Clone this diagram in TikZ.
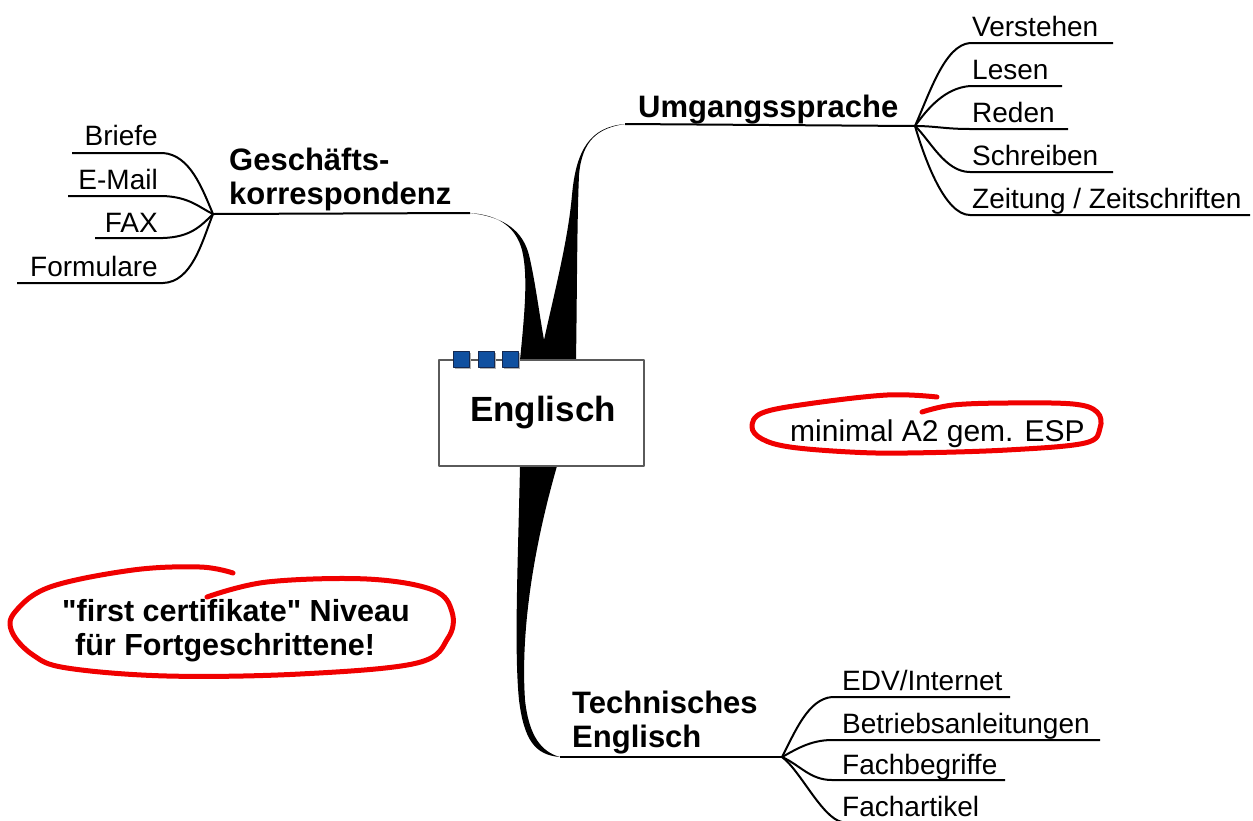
\documentclass[tikz,border=0pt]{standalone}
\usepackage{fontspec}
\setmainfont{Liberation Sans}
\newfontfamily\qfont{Liberation Sans}[Ligatures=TeXOff]
\definecolor{sqblue}{RGB}{16,80,160}
\definecolor{sqedge}{RGB}{20,40,80}
\definecolor{mark}{RGB}{240,0,0}
\definecolor{boxedge}{RGB}{90,90,90}
\newcommand{\sq}{{\qfont\bfseries\char34}}
\begin{document}
\begin{tikzpicture}[x=1pt,y=-1pt,line join=round,
  thin/.style={line width=2pt,black},
  lbl/.style={inner sep=0pt,anchor=base west,font=\fontsize{28}{30}\selectfont},
  lblr/.style={inner sep=0pt,anchor=base east,font=\fontsize{28}{30}\selectfont},
  head/.style={inner sep=0pt,anchor=base west,font=\fontsize{31}{34}\selectfont\bfseries},
  note/.style={draw=mark,line width=5pt,line cap=round},
  sqbox/.style={fill=sqblue,draw=sqedge,line width=1pt}]
\useasboundingbox (0,0) rectangle (1253,820);

% hubs and tips
\coordinate (hubR) at (915,126);
\coordinate (hubL) at (213,214);
\coordinate (hubB) at (782,757);
\coordinate (tipU) at (625,124);
\coordinate (tipL) at (470,213);
\coordinate (tipB) at (560,757);

% tapered main branches
\fill[black] (520,360) .. controls (525,310) and (528,275) .. (522,250)
  .. controls (516,228) and (500,215) .. (tipL)
  .. controls (506,217) and (523,232) .. (529,255)
  .. controls (535,280) and (539,312) .. (544,340)
  .. controls (555,290) and (568,240) .. (572,195)
  .. controls (576,150) and (590,127) .. (tipU)
  .. controls (598,128) and (582,140) .. (579,175)
  .. controls (577,220) and (577,300) .. (576,360) -- cycle;
\fill[black] (520,466) .. controls (518,560) and (514,650) .. (519,700)
  .. controls (524,740) and (535,755) .. (tipB)
  .. controls (542,752) and (529,737) .. (525,700)
  .. controls (521,640) and (530,560) .. (557,466) -- cycle;

% thin branch lines
\draw[thin] (tipU) -- (hubR);
\draw[thin] (tipL) -- (hubL);
\draw[thin] (tipB) -- (hubB);

% central box
\draw[boxedge,fill=white,line width=1.5pt] (439,360) rectangle (644,466);
\node[inner sep=0pt,anchor=base,font=\fontsize{35}{38}\selectfont\bfseries] (center) at (543,421) {Englisch};
\foreach \x in {453,478,502}{
  \fill[gray!60] (\x+2,353) rectangle (\x+18,369);
  \draw[sqbox] (\x,351) rectangle (\x+16,367);
}

% headings
\node[head] (umg) at (638,117) {Umgangssprache};
\node[head] (ges1) at (229,170) {Geschäfts-};
\node[head] (ges2) at (229,204) {korrespondenz};
\node[head] (tech1) at (572,713) {Technisches};
\node[head] (tech2) at (572,747) {Englisch};

% right fan
\node[lbl] (verstehen) at (972,36) {Verstehen};
\node[lbl] (lesen) at (972,79) {Lesen};
\node[lbl] (reden) at (972,122) {Reden};
\node[lbl] (schreiben) at (972,165) {Schreiben};
\node[lbl] (zeitung) at (972,208) {Zeitung / Zeitschriften};
\coordinate (uV) at (970,43);
\coordinate (uL) at (970,86);
\coordinate (uR) at (970,129);
\coordinate (uS) at (970,172);
\coordinate (uZ) at (970,215);
\draw[thin] (hubR) .. controls (930,92) and (945,45) .. (uV) -- (1113,43);
\draw[thin] (hubR) .. controls (928,108) and (945,88) .. (uL) -- (1062,86);
\draw[thin] (hubR) .. controls (935,126) and (945,129) .. (uR) -- (1068,129);
\draw[thin] (hubR) .. controls (930,140) and (945,172) .. (uS) -- (1113,172);
\draw[thin] (hubR) .. controls (925,160) and (945,215) .. (uZ) -- (1250,215);

% left fan
\node[lblr] (briefe) at (158,145) {Briefe};
\node[lblr] (email) at (158,189) {E-Mail};
\node[lblr] (fax) at (158,232) {FAX};
\node[lblr] (formulare) at (158,276) {Formulare};
\coordinate (uB) at (163,153);
\coordinate (uE) at (163,196);
\coordinate (uF) at (163,238);
\coordinate (uFo) at (163,283);
\draw[thin] (72,153) -- (uB) .. controls (190,155) and (202,188) .. (hubL);
\draw[thin] (68,196) -- (uE) .. controls (190,197) and (200,208) .. (hubL);
\draw[thin] (95,238) -- (uF) .. controls (190,237) and (200,227) .. (hubL);
\draw[thin] (17,283) -- (uFo) .. controls (192,282) and (202,242) .. (hubL);

% bottom fan
\node[lbl] (edv) at (842,690) {EDV/Internet};
\node[lbl] (betrieb) at (842,733) {Betriebsanleitungen};
\node[lbl] (fachbeg) at (842,774) {Fachbegriffe};
\node[lbl] (fachart) at (842,816) {Fachartikel};
\coordinate (uEDV) at (832,697);
\coordinate (uBA) at (832,740);
\coordinate (uFB) at (832,780);
\coordinate (uFA) at (842,822);
\draw[thin] (hubB) .. controls (795,732) and (808,699) .. (uEDV) -- (1010,697);
\draw[thin] (hubB) .. controls (795,750) and (810,740) .. (uBA) -- (1100,740);
\draw[thin] (hubB) .. controls (800,765) and (810,780) .. (uFB) -- (1005,780);
\draw[thin] (hubB) .. controls (800,770) and (822,818) .. (uFA) -- (985,822);

% red notes
\draw[note] plot[smooth,tension=0.6] coordinates {(937,397) (887,395) (807,404) (762,413) (752,427) (762,439) (790,447) (850,452) (907,453) (1007,450) (1085,443) (1100,428) (1097,412) (1073,404) (1007,403) (953,405) (922,412)};
\node[inner sep=0pt,anchor=base west,font=\fontsize{30}{32}\selectfont] (esp) at (790,441) {minimal A2 gem. ESP};

\draw[note] plot[smooth,tension=0.6] coordinates {(233,573) (200,567) (133,570) (50,587) (15,612) (12,632) (33,655) (67,668) (167,676) (300,674) (417,663) (448,638) (452,612) (433,590) (367,579) (267,582) (207,597)};
\node[inner sep=0pt,anchor=base west,font=\fontsize{30.5}{33}\selectfont\bfseries] (fc1) at (62,621) {\sq first certifikate\sq{} Niveau};
\node[inner sep=0pt,anchor=base west,font=\fontsize{30.5}{33}\selectfont\bfseries] (fc2) at (75,655) {für Fortgeschrittene!};
\end{tikzpicture}
\end{document}
